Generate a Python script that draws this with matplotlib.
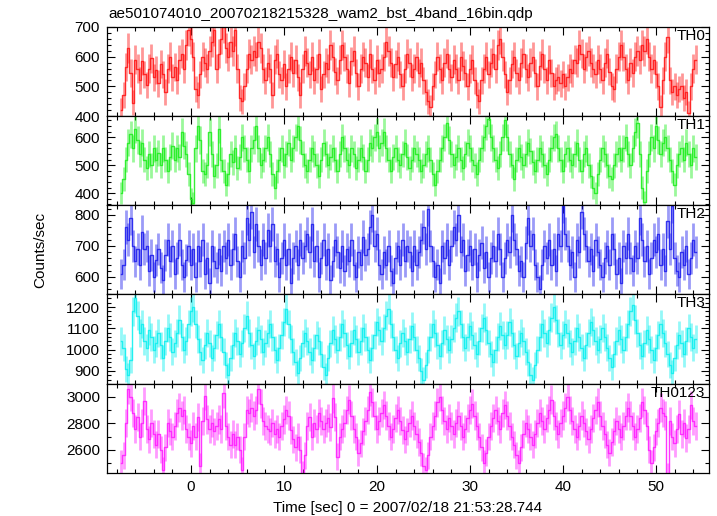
import numpy as np
import matplotlib
matplotlib.use("Agg")
import matplotlib.pyplot as plt
from matplotlib.ticker import MultipleLocator, FixedLocator

plt.rcParams['font.family'] = ['Liberation Sans', 'DejaVu Sans']

title = "ae501074010_20070218215328_wam2_bst_4band_16bin.qdp"
xlabel = "Time [sec] 0 = 2007/02/18 21:53:28.744"
ylabel = "Counts/sec"
bin_size = 0.25
t_start = -7.5
band_names = ["TH0", "TH1", "TH2", "TH3", "TH0123"]
band_colors = ["#ff1a1a", "#22ee22", "#2222ee", "#11f0f0", "#ff22ff"]

th0 = [420, 470, 565, 630, 545, 445, 590, 560, 520, 585, 540, 505, 560, 595, 530, 555,
       510, 575, 540, 480, 560, 600, 530, 565, 520, 590, 610, 560, 640, 690, 660, 600,
       490, 470, 540, 600, 580, 560, 620, 650, 690, 560, 610, 660, 700, 630, 600, 650,
       620, 690, 560, 460, 450, 500, 560, 610, 590, 620, 600, 650, 630, 560, 520, 580,
       560, 470, 590, 610, 540, 520, 575, 500, 560, 600, 545, 590, 530, 470, 560, 620,
       580, 540, 600, 520, 560, 610, 490, 540, 580, 560, 640, 600, 550, 520, 590, 640,
       600, 560, 510, 585, 620, 545, 500, 560, 600, 580, 530, 610, 560, 520, 590, 545,
       560, 600, 650, 620, 580, 530, 575, 600, 540, 500, 560, 610, 580, 530, 560, 600,
       545, 580, 520, 480, 450, 430, 500, 540, 600, 560, 520, 580, 610, 560, 530, 590,
       560, 520, 600, 570, 545, 500, 560, 590, 520, 470, 450, 520, 560, 600, 540, 580,
       610, 560, 640, 660, 600, 540, 480, 520, 575, 600, 545, 520, 580, 610, 560, 530,
       580, 600, 545, 500, 570, 610, 560, 520, 590, 545, 500, 520, 530, 510, 540, 500,
       530, 560, 545, 590, 580, 640, 610, 560, 600, 620, 580, 560, 540, 590, 560, 520,
       580, 610, 550, 500, 490, 560, 600, 640, 600, 560, 520, 580, 545, 600, 620, 590,
       640, 620, 660, 600, 560, 590, 540, 500, 430, 520, 600, 665, 520, 480, 500, 470,
       490, 500, 460, 480, 410, 500, 560, 590]

th1 = [400, 450, 520, 580, 610, 560, 630, 590, 540, 580, 520, 490, 540, 500, 560, 520,
       545, 500, 560, 520, 480, 530, 570, 520, 560, 530, 620, 570, 540, 470, 380, 365,
       560, 640, 590, 480, 470, 500, 620, 540, 460, 500, 630, 520, 480, 430, 470, 540,
       510, 560, 490, 530, 600, 560, 520, 480, 560, 590, 640, 560, 500, 520, 560, 600,
       540, 470, 420, 480, 520, 560, 500, 540, 580, 520, 560, 600, 640, 590, 540, 500,
       480, 520, 560, 540, 500, 460, 520, 580, 540, 500, 530, 560, 520, 480, 540, 600,
       560, 520, 500, 560, 540, 490, 520, 560, 530, 480, 520, 580, 560, 600, 620, 560,
       580, 620, 560, 520, 480, 530, 560, 520, 500, 540, 580, 530, 490, 520, 560, 540,
       520, 480, 500, 540, 560, 520, 470, 430, 480, 520, 560, 600, 650, 590, 540, 500,
       530, 560, 520, 490, 540, 580, 560, 520, 500, 470, 520, 560, 600, 640, 665, 600,
       560, 520, 490, 540, 600, 660, 600, 540, 500, 450, 520, 560, 530, 500, 540, 580,
       550, 510, 480, 520, 560, 540, 500, 470, 520, 560, 600, 610, 560, 520, 480, 540,
       560, 520, 500, 540, 580, 520, 480, 540, 560, 500, 460, 420, 400, 470, 520, 560,
       540, 500, 460, 450, 500, 540, 560, 520, 560, 600, 540, 500, 560, 620, 650, 540,
       420, 370, 480, 540, 600, 560, 640, 590, 540, 580, 600, 560, 520, 480, 430, 500,
       540, 560, 520, 580, 540, 500, 560, 530]

th2 = [610, 640, 760, 720, 790, 700, 650, 690, 640, 745, 690, 700, 620, 670, 600, 655,
       690, 630, 590, 670, 720, 650, 700, 610, 660, 720, 640, 600, 655, 700, 640, 690,
       600, 700, 650, 720, 610, 660, 580, 700, 650, 630, 690, 620, 700, 660, 720, 640,
       690, 740, 650, 600, 700, 660, 790, 720, 810, 680, 770, 700, 640, 720, 660, 750,
       700, 770, 650, 690, 600, 660, 720, 640, 690, 580, 660, 700, 640, 720, 660, 700,
       740, 680, 770, 650, 700, 600, 660, 720, 640, 690, 590, 650, 720, 680, 630, 700,
       620, 690, 650, 720, 640, 600, 680, 640, 730, 670, 690, 760, 800, 700, 740, 640,
       610, 680, 640, 700, 620, 580, 660, 700, 640, 720, 650, 700, 680, 620, 700, 640,
       680, 720, 760, 690, 820, 700, 650, 600, 640, 580, 700, 660, 720, 640, 700, 760,
       720, 800, 680, 720, 620, 670, 700, 640, 690, 600, 670, 710, 630, 680, 600, 660,
       700, 650, 740, 690, 600, 660, 720, 680, 800, 720, 690, 620, 650, 600, 710, 790,
       700, 740, 640, 600, 560, 640, 700, 660, 720, 640, 690, 620, 740, 700, 830, 740,
       700, 640, 680, 600, 720, 680, 810, 740, 700, 650, 690, 620, 720, 680, 640, 600,
       660, 700, 640, 740, 690, 610, 660, 580, 700, 660, 740, 660, 620, 700, 660, 790,
       720, 650, 700, 610, 660, 720, 680, 740, 640, 690, 620, 780, 690, 830, 660, 620,
       600, 680, 640, 700, 610, 660, 720, 680]

th3 = [1040, 1010, 910, 880, 950, 1180, 1240, 1160, 1080, 1120, 1040, 1010, 1090, 1060, 1000, 1030,
       1080, 1020, 960, 1040, 1100, 1060, 990, 1030, 1080, 1140, 1060, 1000, 1040, 1120, 1180, 1200,
       1120, 1050, 990, 950, 1020, 1080, 1030, 960, 1010, 1070, 1120, 1060, 990, 930, 880, 960,
       1020, 1080, 1040, 980, 1030, 1100, 1160, 1080, 1020, 970, 1040, 1090, 1050, 990, 1030, 1080,
       1120, 1060, 1000, 950, 1010, 1070, 1130, 1190, 1120, 1050, 990, 940, 890, 960, 1030, 1080,
       1040, 990, 950, 1010, 1070, 1040, 980, 920, 880, 960, 1030, 1090, 1050, 1000, 1060, 1120,
       1080, 1020, 970, 1030, 1090, 1050, 990, 1040, 1100, 1060, 1000, 950, 1010, 1070, 1130, 1090,
       1040, 1100, 1160, 1190, 1120, 1060, 1000, 960, 1030, 1080, 1040, 990, 1050, 1110, 1060, 1000,
       960, 900, 860, 930, 1000, 1060, 1120, 1080, 1020, 970, 1030, 1090, 1050, 1000, 1050, 1100,
       1150, 1180, 1120, 1060, 1010, 1060, 1110, 1070, 1020, 980, 1040, 1100, 1150, 1090, 1030, 980,
       940, 1000, 1060, 1110, 1070, 1020, 1070, 1130, 1080, 1020, 970, 1030, 1080, 1040, 990, 940,
       880, 860, 930, 1000, 1060, 1120, 1080, 1030, 1090, 1150, 1200, 1140, 1080, 1020, 1070, 1120,
       1080, 1030, 990, 1040, 1100, 1060, 1010, 960, 1020, 1080, 1130, 1090, 1040, 1000, 1050, 1100,
       1060, 1010, 960, 920, 980, 1040, 1090, 1050, 1000, 1060, 1120, 1180, 1210, 1140, 1080, 1020,
       970, 1030, 1090, 1050, 1000, 950, 1010, 1070, 1120, 1080, 1030, 980, 930, 890, 960, 1020,
       1070, 1030, 980, 1040, 1100, 1060, 1010, 1050]

th0123 = [2500, 2560, 2800, 3060, 3000, 2880, 2760, 2850, 2700, 2800, 2970, 2760, 2680, 2800, 2720, 2640,
          2720, 2600, 2450, 2620, 2800, 2740, 2700, 2780, 2880, 2920, 2860, 2900, 2760, 2700, 2650, 2780,
          2700, 2850, 2480, 2820, 3010, 2830, 2760, 2800, 2740, 2780, 2830, 2760, 3030, 2780, 2700, 2640,
          2720, 2640, 2700, 2600, 2450, 2700, 2900, 2880, 2920, 2860, 2900, 3060, 2950, 2820, 2780, 2760,
          2740, 2800, 2720, 2760, 2700, 2780, 2830, 2900, 2860, 2750, 2680, 2620, 2700, 2600, 2420, 2560,
          2780, 2850, 2700, 2800, 2760, 2880, 2820, 2760, 2800, 2840, 2770, 2990, 2850, 2550, 2700, 2760,
          2800, 2900, 2980, 2860, 2760, 2700, 2580, 2650, 2740, 2820, 2900, 3040, 2960, 2860, 2760, 2820,
          2880, 2940, 2860, 2780, 2700, 2760, 2840, 2900, 2820, 2750, 2680, 2740, 2800, 2860, 2780, 2720,
          2660, 2580, 2480, 2450, 2560, 2700, 2780, 2860, 2960, 3000, 2900, 2820, 2760, 2840, 2780, 2720,
          2800, 2860, 2780, 2700, 2760, 2840, 2900, 2950, 2860, 2780, 2700, 2620, 2500, 2580, 2700, 2780,
          2840, 2900, 2820, 2760, 2880, 2940, 2860, 2780, 2700, 2640, 2560, 2500, 2620, 2720, 2800, 2760,
          2700, 2640, 2720, 2800, 2880, 2820, 2760, 2840, 2900, 2980, 2860, 2780, 2720, 2800, 2860, 2920,
          3000, 2900, 2820, 2760, 2700, 2780, 2860, 2800, 2740, 2680, 2760, 2840, 2900, 2960, 2860, 2780,
          2720, 2640, 2580, 2660, 2740, 2820, 2760, 2700, 2780, 2860, 2920, 2860, 2780, 2700, 2760, 2840,
          2960, 2900, 2780, 2600, 2500, 2620, 2740, 2800, 2920, 2880, 2860, 2400, 2820, 2700, 2650, 2760,
          2870, 2720, 2800, 2690, 2760, 2940, 2820, 2780]

series = [th0, th1, th2, th3, th0123]
ylims = [(400, 700), (358, 676), (545, 832), (839, 1261), (2426, 3098)]
yticks = [[400, 500, 600, 700], [400, 500, 600], [600, 700, 800],
          [900, 1000, 1100, 1200], [2600, 2800, 3000]]
yminor = [20, 20, 20, 20, 100]

W, H = 717, 516
fig = plt.figure(figsize=(W / 100, H / 100), dpi=100)
left, right = 107, 709
edges = [27, 116, 205, 294, 384, 473]

for i, (vals, name, col) in enumerate(zip(series, band_names, band_colors)):
    top_px, bot_px = edges[i], edges[i + 1]
    ax = fig.add_axes([left / W, 1 - bot_px / H, (right - left) / W, (bot_px - top_px) / H])
    vals = np.asarray(vals, dtype=float)
    t = t_start + bin_size * np.arange(len(vals))
    err = np.sqrt(vals / bin_size)
    ax.errorbar(t, vals, yerr=err, fmt='none',
                ecolor=col, elinewidth=2.0, capsize=0, alpha=0.45)
    ax.step(t, vals, where='mid', color=col, lw=1.0, alpha=0.9)
    ax.set_xlim(-9.03, 55.7)
    ax.set_ylim(*ylims[i])
    ax.yaxis.set_major_locator(FixedLocator(yticks[i]))
    ax.yaxis.set_minor_locator(MultipleLocator(yminor[i]))
    ax.xaxis.set_major_locator(MultipleLocator(10))
    ax.xaxis.set_minor_locator(MultipleLocator(2))
    ax.tick_params(which='both', direction='in', top=True, right=True,
                   labelsize=11, width=0.8, colors='black')
    ax.tick_params(which='major', length=6, pad=5)
    ax.tick_params(which='minor', length=3)
    for s in ax.spines.values():
        s.set_linewidth(0.9)
    if i < 4:
        ax.tick_params(labelbottom=False)
    ax.text(0.994, 0.975, name, transform=ax.transAxes, ha='right', va='top', fontsize=11)

fig.text(108 / W, 1 - 14 / H, title, ha='left', va='center', fontsize=11)
fig.text(0.5 * (left + right) / W, 1 - 508 / H, xlabel, ha='center', va='center', fontsize=11)
fig.text(40 / W, 1 - 250 / H, ylabel, ha='center', va='center', rotation=90, fontsize=11)

fig.savefig("out.png", dpi=100)
